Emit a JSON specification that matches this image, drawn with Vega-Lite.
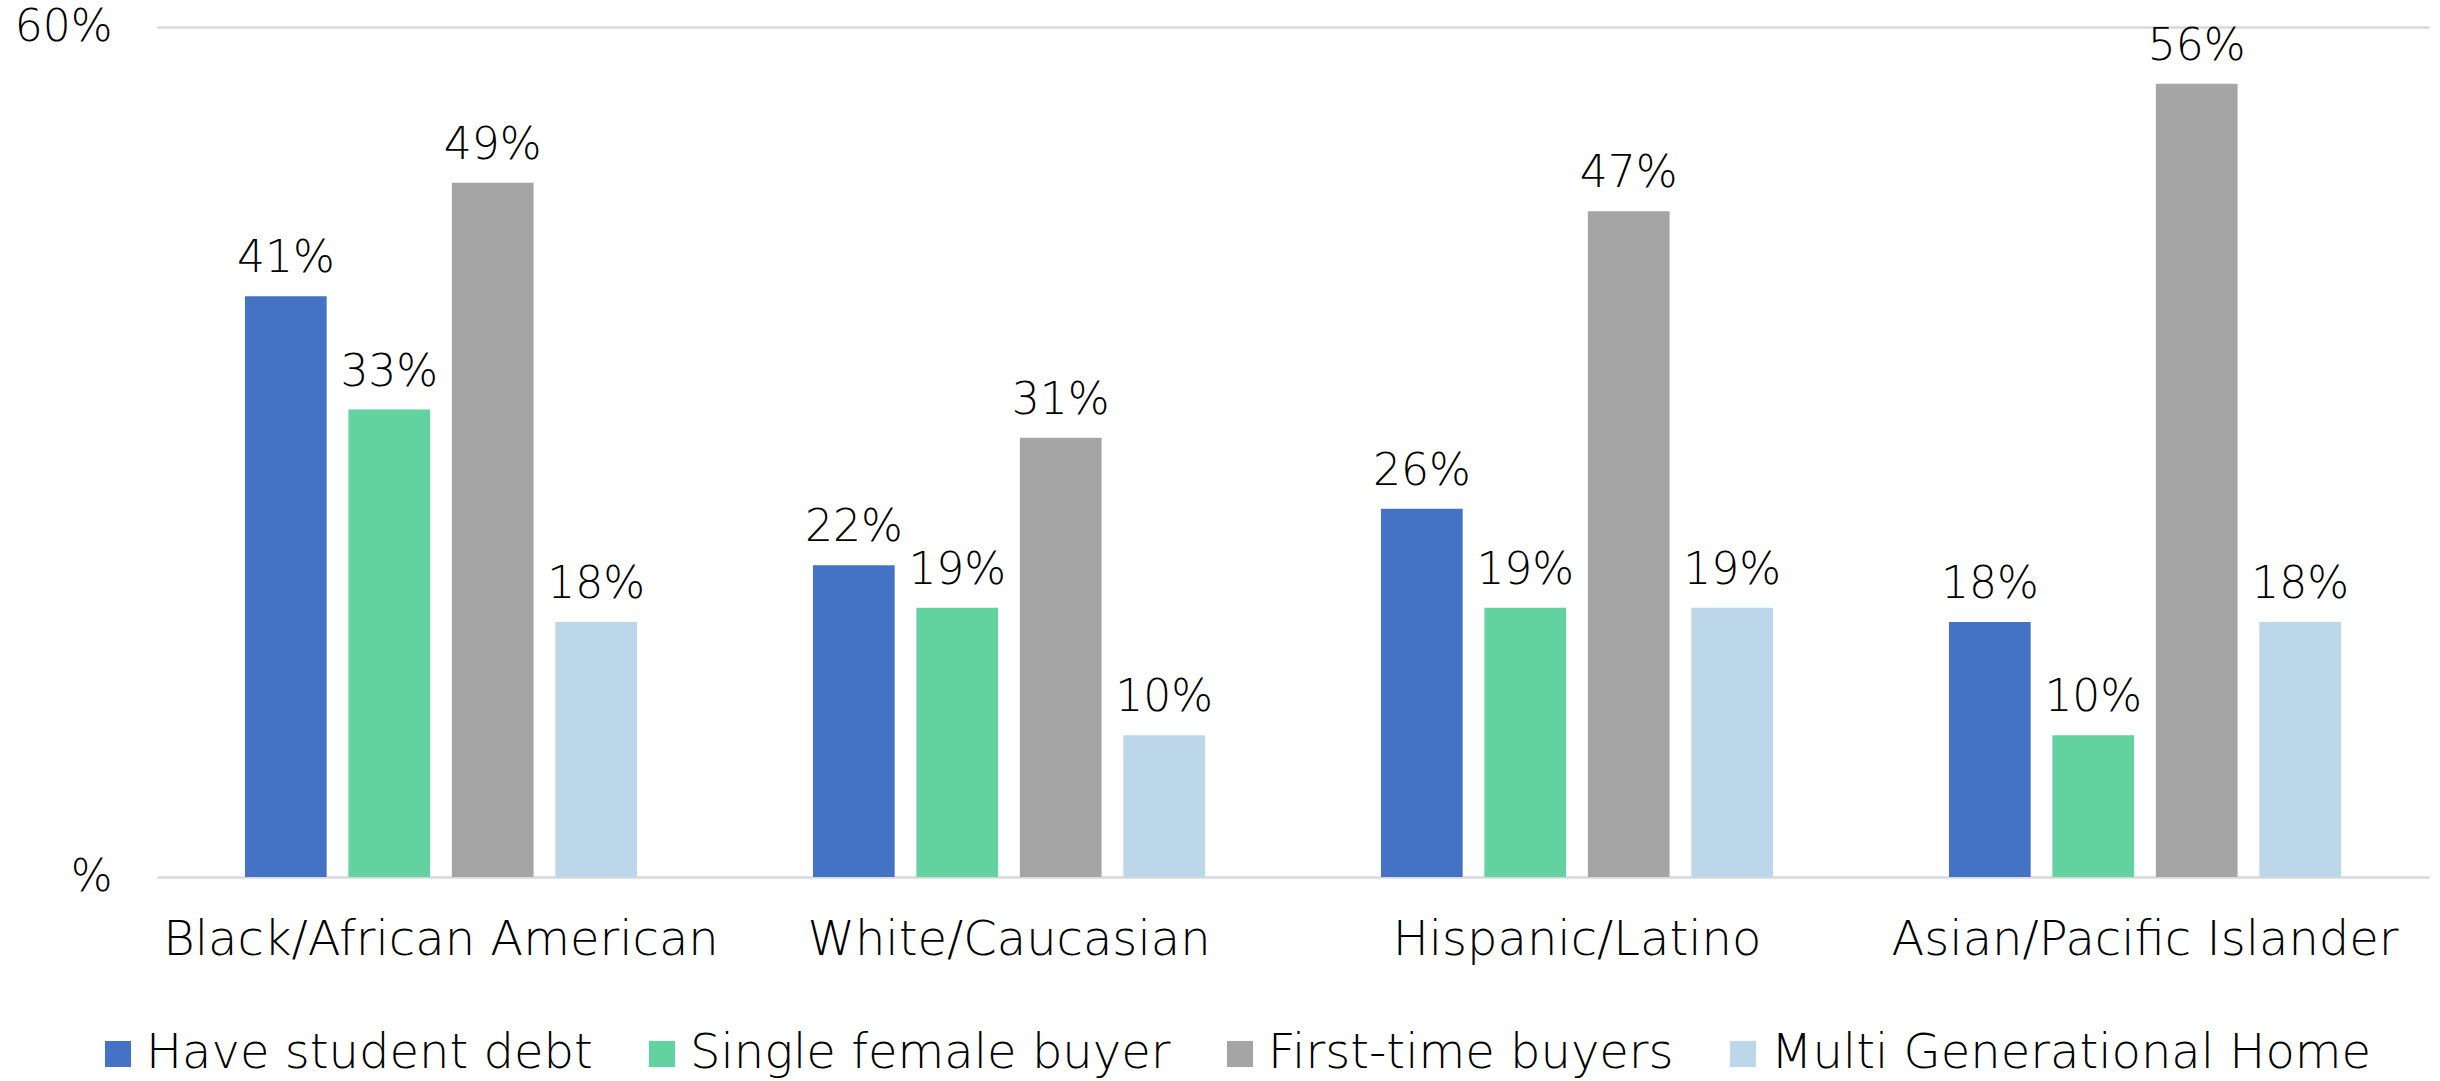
{
  "$schema": "https://vega.github.io/schema/vega-lite/v6.json",
  "autosize": {"type": "none"},
  "width": 2272,
  "height": 850,
  "padding": {"left": 157, "top": 27, "right": 11, "bottom": 204},
  "background": "white",
  "config": {
    "view": {"stroke": null},
    "font": "DejaVu Sans",
    "axis": {"labelFont": "DejaVu Sans", "labelFontWeight": 200, "labelColor": "#000000", "labelLimit": 0},
    "legend": {"labelFont": "DejaVu Sans", "labelFontWeight": 200, "labelColor": "#000000", "labelLimit": 0}
  },
  "data": {
    "values": [
      {"group": "Black/African American", "series": "Have student debt", "value": 0.41},
      {"group": "Black/African American", "series": "Single female buyer", "value": 0.33},
      {"group": "Black/African American", "series": "First-time buyers", "value": 0.49},
      {"group": "Black/African American", "series": "Multi Generational Home", "value": 0.18},
      {"group": "White/Caucasian", "series": "Have student debt", "value": 0.22},
      {"group": "White/Caucasian", "series": "Single female buyer", "value": 0.19},
      {"group": "White/Caucasian", "series": "First-time buyers", "value": 0.31},
      {"group": "White/Caucasian", "series": "Multi Generational Home", "value": 0.10},
      {"group": "Hispanic/Latino", "series": "Have student debt", "value": 0.26},
      {"group": "Hispanic/Latino", "series": "Single female buyer", "value": 0.19},
      {"group": "Hispanic/Latino", "series": "First-time buyers", "value": 0.47},
      {"group": "Hispanic/Latino", "series": "Multi Generational Home", "value": 0.19},
      {"group": "Asian/Pacific Islander", "series": "Have student debt", "value": 0.18},
      {"group": "Asian/Pacific Islander", "series": "Single female buyer", "value": 0.10},
      {"group": "Asian/Pacific Islander", "series": "First-time buyers", "value": 0.56},
      {"group": "Asian/Pacific Islander", "series": "Multi Generational Home", "value": 0.18}
    ]
  },
  "encoding": {
    "x": {
      "field": "group", "type": "nominal",
      "sort": ["Black/African American", "White/Caucasian", "Hispanic/Latino", "Asian/Pacific Islander"],
      "scale": {"paddingInner": 0, "paddingOuter": 0},
      "axis": {"title": null, "labelAngle": 0, "domain": false, "ticks": false, "labelFontSize": 48, "labelPadding": 39, "labelBaseline": "top"}
    },
    "xOffset": {
      "field": "series", "type": "nominal",
      "sort": ["Have student debt", "Single female buyer", "First-time buyers", "Multi Generational Home"],
      "scale": {"paddingInner": 0.21, "paddingOuter": 0.85}
    },
    "y": {
      "field": "value", "type": "quantitative",
      "scale": {"domain": [0, 0.6], "nice": false},
      "axis": {
        "title": null, "values": [0, 0.6], "domain": false, "ticks": false,
        "grid": true, "gridColor": "#D9D9D9", "gridWidth": 2.5,
        "labelFontSize": 44, "labelPadding": 45,
        "labelExpr": "datum.value == 0 ? '%' : format(datum.value, '.0%')"
      }
    }
  },
  "layer": [
    {
      "mark": {"type": "bar"},
      "encoding": {
        "color": {
          "field": "series", "type": "nominal",
          "sort": ["Have student debt", "Single female buyer", "First-time buyers", "Multi Generational Home"],
          "scale": {
            "domain": ["Have student debt", "Single female buyer", "First-time buyers", "Multi Generational Home"],
            "range": ["#4472C4", "#62D29E", "#A5A5A5", "#BDD7EA"]
          },
          "legend": {
            "title": null, "orient": "none", "direction": "horizontal",
            "legendX": -63, "legendY": 1003,
            "symbolType": "square", "symbolSize": 680, "symbolStrokeWidth": 0,
            "labelFontSize": 48, "labelOffset": 4, "columnPadding": 45
          }
        }
      }
    },
    {
      "mark": {"type": "text", "baseline": "alphabetic", "dy": -24, "fontSize": 44, "fontWeight": 200, "font": "DejaVu Sans", "color": "#000000"},
      "encoding": {
        "text": {"field": "value", "type": "quantitative", "format": ".0%"}
      }
    }
  ]
}
